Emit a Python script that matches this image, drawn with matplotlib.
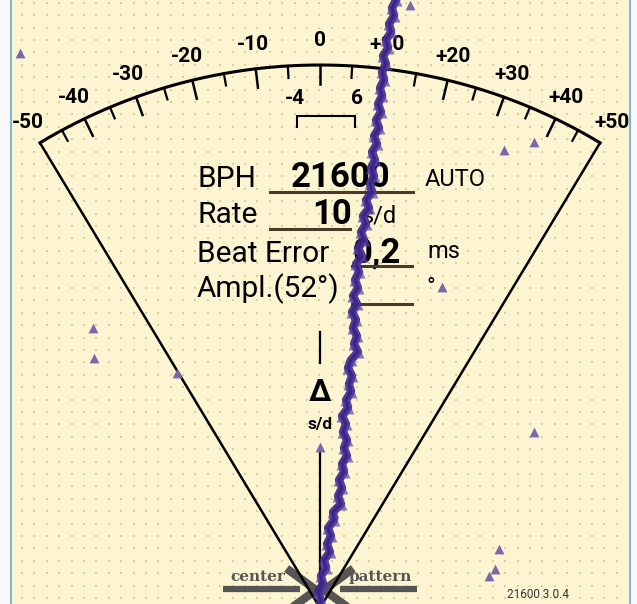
import numpy as np
import matplotlib
matplotlib.use("Agg")
import matplotlib.pyplot as plt

plt.rcParams['font.family'] = ['Roboto', 'DejaVu Sans']

# Dial scale: tick values and the angle (degrees from vertical)
scale_cal_values = [0, 10, 20, 30, 40, 50]
scale_cal_angles = [0.0, 6.8, 13.6, 19.8, 25.7, 31.05]
major_values = [-50, -40, -30, -20, -10, 0, 10, 20, 30, 40, 50]
major_labels = ['-50', '-40', '-30', '-20', '-10', '0', '+10', '+20', '+30', '+40', '+50']
minor_values = [-45, -35, -25, -15, -5, 5, 15, 25, 35, 45]

# Readout rows
row_names = ['BPH', 'Rate', 'Beat Error', 'Ampl.(52°)']
row_values = ['21600', '10', '0,2', '']
row_units = ['AUTO', 's/d', 'ms', '°']

# Measured trace (x position in screen px, time running down the screen)
trace_y = [0, 8, 16, 24, 32, 40, 48, 56, 64, 72, 80, 88, 96, 104, 112, 120,
           128, 136, 144, 152, 160, 168, 176, 184, 192, 200, 208, 216, 224,
           232, 240, 248, 256, 264, 272, 280, 288, 296, 304, 312, 320, 328,
           336, 344, 352, 360, 368, 376, 384, 392, 400, 408, 416, 424, 432,
           440, 448, 456, 464, 472, 480, 488, 496, 504, 512, 520, 528, 536,
           544, 552, 560, 568, 576, 584, 592, 600, 608]
trace_x = [396, 392, 394, 389, 391, 386, 388, 383, 386, 382, 384, 380, 382,
           378, 381, 376, 379, 374, 377, 372, 375, 371, 374, 370, 372, 366,
           369, 363, 366, 361, 364, 358, 362, 356, 359, 355, 358, 353, 357,
           352, 356, 353, 357, 354, 358, 351, 348, 352, 349, 351, 346, 348,
           342, 346, 343, 347, 344, 347, 342, 344, 339, 342, 338, 341, 333,
           334, 328, 331, 327, 330, 324, 326, 321, 323, 318, 321, 319]

# Stray detections
stray_x = [20, 410, 504, 534, 442, 93, 94, 177, 320, 534, 499, 495, 489]
stray_y = [53, 5, 150, 142, 287, 328, 358, 373, 447, 432, 549, 569, 576]

W, H = 637, 604
cx, cy, R = 320, 608, 543

fig = plt.figure(figsize=(W / 100, H / 100), dpi=100)
ax = fig.add_axes([0, 0, 1, 1])
ax.set_xlim(0, W)
ax.set_ylim(H, 0)
ax.axis('off')
fig.patch.set_facecolor('#f8f8f8')

# panel
ax.add_patch(plt.Rectangle((10, 0), 619, H, color='#fdf5d1', zorder=0))
ax.plot([10.5, 10.5], [0, H], color='#6aaad8', lw=1.2, zorder=1)
ax.plot([629.5, 629.5], [0, H], color='#6aaad8', lw=1.2, zorder=1)

# dot grid
gx, gy = np.meshgrid(np.arange(22, 625, 12.39), np.arange(2.7, H, 12.4))
ax.scatter(gx.ravel(), gy.ravel(), s=2.2, marker='s', color='#d9cfa2', lw=0, zorder=1)


def angle_of(v):
    a = np.interp(abs(v), scale_cal_values, scale_cal_angles)
    return np.radians(np.sign(v) * a)


def polar(v, r):
    a = angle_of(v)
    return cx + r * np.sin(a), cy - r * np.cos(a)


# arc
arc_v = np.linspace(-50, 50, 300)
ax.plot(*polar(arc_v, R), color='black', lw=2.2, zorder=3)

# fan lines
for v in (-50, 50):
    x0, y0 = polar(v, R)
    ax.plot([x0, cx], [y0, cy], color='black', lw=1.8, zorder=3)

# ticks
for v in major_values[1:-1]:
    xa, ya = polar(v, R)
    xb, yb = polar(v, R - 19)
    ax.plot([xa, xb], [ya, yb], color='black', lw=1.8, zorder=3)
for v in minor_values:
    xa, ya = polar(v, R)
    xb, yb = polar(v, R - 12)
    ax.plot([xa, xb], [ya, yb], color='black', lw=1.6, zorder=3)

for v, lab in zip(major_values, major_labels):
    x, y = polar(v, R + 24)
    ax.text(x, y, lab, ha='center', va='center', fontsize=15,
            fontweight='bold', zorder=4)

# inner beat-error bracket
ax.text(295, 98, '-4', ha='center', va='center', fontsize=15, fontweight='bold')
ax.text(357, 98, '6', ha='center', va='center', fontsize=15, fontweight='bold')
ax.plot([297, 297, 355, 355], [127, 116, 116, 127], color='black', lw=1.5,
        solid_joinstyle='miter')

# readout block
row_base = [187, 223, 262, 297]
for name, base in zip(row_names, row_base):
    ax.text(197, base, name, ha='left', va='baseline', fontsize=21.5, zorder=4)

ax.text(341, 187, row_values[0], ha='center', va='baseline', fontsize=25,
        fontweight='bold', zorder=4)
ax.text(352, 224, row_values[1], ha='right', va='baseline', fontsize=25,
        fontweight='bold', zorder=4)
ax.text(352, 262, row_values[2], ha='left', va='baseline', fontsize=25,
        fontweight='bold', zorder=4)

ax.text(425, 186, row_units[0], ha='left', va='baseline', fontsize=17, zorder=4)
ax.text(362, 222, row_units[1], ha='left', va='baseline', fontsize=17, zorder=4)
ax.text(427, 258, row_units[2], ha='left', va='baseline', fontsize=17, zorder=4)
ax.text(426, 294, row_units[3], ha='left', va='baseline', fontsize=17, zorder=4)

ul = '#4b3a2a'
ax.plot([270, 413], [192, 192], color=ul, lw=2.2, zorder=4)
ax.plot([270, 350], [229, 229], color=ul, lw=2.2, zorder=4)
ax.plot([352, 412], [266, 266], color=ul, lw=2.2, zorder=4)
ax.plot([352, 412], [304, 304], color=ul, lw=2.2, zorder=4)

# delta marker
ax.plot([320, 320], [332, 363], color='black', lw=1.6)
ax.text(320, 392, 'Δ', ha='center', va='center', fontsize=22, fontweight='bold')
ax.text(320, 425, 's/d', ha='center', va='center', fontsize=12.5, fontweight='bold')
ax.plot([320, 320], [452, 604], color='black', lw=1.6, zorder=3)

# center pattern guide
g = '#555555'
ax.plot([223, 300], [589, 589], color=g, lw=4.5, solid_capstyle='butt', zorder=2)
ax.plot([340, 417], [589, 589], color=g, lw=4.5, solid_capstyle='butt', zorder=2)
ax.plot([290, 316, 290], [571, 590, 609], color=g, lw=6, zorder=2,
        solid_joinstyle='miter')
ax.plot([350, 324, 350], [571, 590, 609], color=g, lw=6, zorder=2,
        solid_joinstyle='miter')
ax.text(258, 581, 'center', ha='center', va='baseline', fontsize=11,
        fontweight='bold', family='DejaVu Serif', color=g)
ax.text(380, 581, 'pattern', ha='center', va='baseline', fontsize=11,
        fontweight='bold', family='DejaVu Serif', color=g)

# trace
ax.plot(trace_x, trace_y, color='#3a2488', lw=6, zorder=5, alpha=0.9)
ax.scatter(trace_x, trace_y, marker='^', s=75, color='#5a44a8', alpha=0.7,
           lw=0, zorder=6)
ax.plot(trace_x, trace_y, color='#35207f', lw=2.5, zorder=7, alpha=0.8)
ax.scatter(stray_x, stray_y, marker='^', s=50, color='#7b68a8', lw=0, zorder=6)

ax.text(538, 595, '21600 3.0.4', ha='center', va='center', fontsize=8.5,
        color='#333333')

fig.savefig('out.png', dpi=100, facecolor=fig.get_facecolor())
